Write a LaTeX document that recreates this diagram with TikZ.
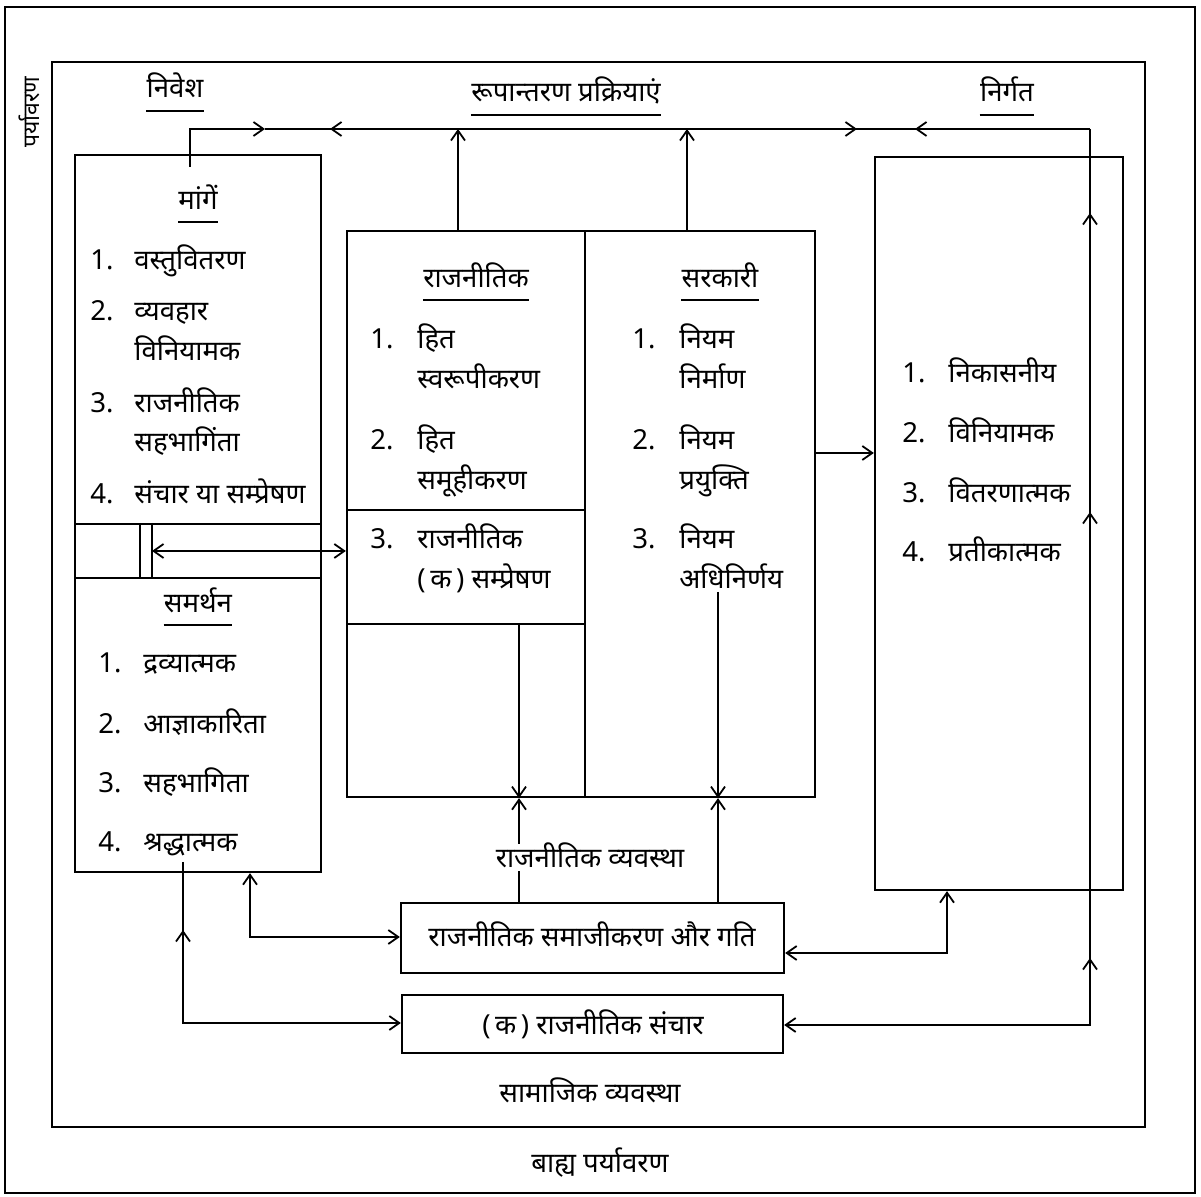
\documentclass[tikz,border=0pt]{standalone}
\usepackage{fontspec}
\newfontfamily\dev[Script=Devanagari]{Noto Sans}
\usetikzlibrary{arrows.meta,fit}
\begin{document}
\begin{tikzpicture}[x=0.5pt,y=-0.5pt,
  box/.style={draw,line width=1.15pt,inner sep=0pt},
  ln/.style={line width=1.1pt},
  >={Straight Barb[length=5pt,width=7pt,line width=0.9pt]},
  tx/.style={font=\dev\fontsize{13.8}{16}\selectfont,inner sep=0pt,text height=9.5pt,text depth=0pt,anchor=west},
  tc/.style={tx,anchor=center},
  ul/.style={line width=1.1pt}]
\useasboundingbox (0,0) rectangle (1201,1197);
% frames and boxes
\node[box,fit={(5,7) (1195,1193)}] (env) {};
\node[box,fit={(52,62) (1145,1127)}] (soc) {};
\node[box,fit={(75,155) (321,524)}] (Ld) {};
\node[box,fit={(75,524) (321,578)}] (Lm) {};
\node[box,fit={(75,578) (321,872)}] (Ls) {};
\node[box,fit={(347,231) (585,510)}] (Ma) {};
\node[box,fit={(347,510) (585,624)}] (Mb) {};
\node[box,fit={(347,624) (585,797)}] (Mc) {};
\node[box,fit={(585,231) (815,797)}] (G) {};
\node[box,fit={(875,157) (1123,890)}] (R) {};
\node[box,fit={(401,903) (784,973)}] (S) {};
\node[box,fit={(402,995) (783,1053)}] (C) {};
% coordinates
\coordinate (inS) at (190,167);
\coordinate (tl) at (190,129);
\coordinate (tA) at (458,129);
\coordinate (tG) at (687,129);
\coordinate (tr) at (1090,129);
\coordinate (br) at (1090,1025);
\coordinate (m1) at (265,129);
\coordinate (m2) at (330,129);
\coordinate (m3) at (857,129);
\coordinate (m4) at (915,129);
\coordinate (u1) at (1090,958);
\coordinate (u2) at (1090,512);
\coordinate (u3) at (1090,213);
\coordinate (h1) at (0,453);
\coordinate (v1) at (140,0);
\coordinate (v2) at (152,0);
\coordinate (p1) at (519,0);
\coordinate (p2) at (718,592);
\coordinate (q1) at (250,937);
\coordinate (q2) at (183,862);
\coordinate (q3) at (183,1023);
\coordinate (q4) at (183,930);
\coordinate (q5) at (947,953);
% top loop
\draw[ln,->] (inS) -- (tl) -- (m1);
\draw[ln] (m1) -- (tr);
\draw[ln,->] (Ma.north -| tA) -- (tA);
\draw[ln,->] (tA) -- (m2);
\draw[ln,->] (G.north -| tG) -- (tG);
\draw[ln,->] (tG) -- (m3);
\draw[ln,->] (tr) -- (m4);
\draw[ln,->] (tr) -- (br) -- (C.east |- br);
\draw[ln,->] (br) -- (u1);
\draw[ln,->] (u1) -- (u2);
\draw[ln,->] (u2) -- (u3);
% middle connectors
\draw[ln,->] (G.east |- h1) -- (R.west |- h1);
\draw[ln] (Lm.north -| v1) -- (Lm.south -| v1);
\draw[ln] (Lm.north -| v2) -- (Lm.south -| v2);
\draw[ln,<->] (Lm.center -| v2) -- (Mb.west |- Lm.center);
\draw[ln,->] (Mc.north -| p1) -- (Mc.south -| p1);
\draw[ln,->] (S.north -| p1) -- (Mc.south -| p1);
\draw[ln,->] (p2) -- (G.south -| p2);
\draw[ln,->] (S.north -| p2) -- (G.south -| p2);
% bottom connectors
\draw[ln,<->] (Ls.south -| q1) |- (S.west |- q1);
\draw[ln,->] (q2) -- (q3) -- (C.west |- q3);
\draw[ln,->] (q3) -- (q4);
\draw[ln,<->] (R.south -| q5) |- (S.east |- q5);
% headings
\node[tc,rotate=90,font=\dev\fontsize{11.5}{13}\selectfont] (penv) at (30,112) {पर्यावरण};
\node[tc] (hin) at (175,88) {निवेश};
\node[tc] (htr) at (566,92) {रूपान्तरण प्रक्रियाएं};
\node[tc] (hout) at (1007,92) {निर्गत};
\draw[ul] ([yshift=-6.5pt]hin.south west) -- ([yshift=-6.5pt]hin.south east);
\draw[ul] ([yshift=-6.5pt]htr.south west) -- ([yshift=-6.5pt]htr.south east);
\draw[ul] ([yshift=-6.5pt]hout.south west) -- ([yshift=-6.5pt]hout.south east);
% left box: demands
\node[tc] (hd) at (198,200) {मांगें};
\draw[ul] ([yshift=-6pt]hd.south west) -- ([yshift=-6pt]hd.south east);
\node[tx] (d1n) at (90,260) {1.};
\node[tx] (d1) at (134,260) {वस्तुवितरण};
\node[tx] (d2n) at (90,311) {2.};
\node[tx] (d2) at (134,311) {व्यवहार};
\node[tx] (d2b) at (134,351) {विनियामक};
\node[tx] (d3n) at (90,403) {3.};
\node[tx] (d3) at (134,403) {राजनीतिक};
\node[tx] (d3b) at (134,442) {सहभागिंता};
\node[tx] (d4n) at (90,494) {4.};
\node[tx] (d4) at (134,494) {संचार या सम्प्रेषण};
% left box: support
\node[tc] (hs) at (198,603) {समर्थन};
\draw[ul] ([yshift=-6pt]hs.south west) -- ([yshift=-6pt]hs.south east);
\node[tx] (s1n) at (98,663) {1.};
\node[tx] (s1) at (143,663) {द्रव्यात्मक};
\node[tx] (s2n) at (98,724) {2.};
\node[tx] (s2) at (143,724) {आज्ञाकारिता};
\node[tx] (s3n) at (98,783) {3.};
\node[tx] (s3) at (143,783) {सहभागिता};
\node[tx] (s4n) at (98,842) {4.};
\node[tx] (s4) at (143,842) {श्रद्धात्मक};
% middle left: political
\node[tc] (hp) at (476,278) {राजनीतिक};
\draw[ul] ([yshift=-6pt]hp.south west) -- ([yshift=-6pt]hp.south east);
\node[tx] (a1n) at (370,339) {1.};
\node[tx] (a1) at (417,339) {हित};
\node[tx] (a1b) at (417,379) {स्वरूपीकरण};
\node[tx] (a2n) at (370,440) {2.};
\node[tx] (a2) at (417,440) {हित};
\node[tx] (a2b) at (417,480) {समूहीकरण};
\node[tx] (a3n) at (370,539) {3.};
\node[tx] (a3) at (417,539) {राजनीतिक};
\node[tx] (a3b) at (417,579) {(\,क\,) सम्प्रेषण};
% middle right: governmental
\node[tc] (hg) at (720,278) {सरकारी};
\draw[ul] ([yshift=-6pt]hg.south west) -- ([yshift=-6pt]hg.south east);
\node[tx] (g1n) at (632,339) {1.};
\node[tx] (g1) at (679,339) {नियम};
\node[tx] (g1b) at (679,379) {निर्माण};
\node[tx] (g2n) at (632,440) {2.};
\node[tx] (g2) at (679,440) {नियम};
\node[tx] (g2b) at (679,480) {प्रयुक्ति};
\node[tx] (g3n) at (632,539) {3.};
\node[tx] (g3) at (679,539) {नियम};
\node[tx] (g3b) at (679,579) {अधिनिर्णय};
% right box: outputs
\node[tx] (o1n) at (902,373) {1.};
\node[tx] (o1) at (948,373) {निकासनीय};
\node[tx] (o2n) at (902,433) {2.};
\node[tx] (o2) at (948,433) {विनियामक};
\node[tx] (o3n) at (902,493) {3.};
\node[tx] (o3) at (948,493) {वितरणात्मक};
\node[tx] (o4n) at (902,552) {4.};
\node[tx] (o4) at (948,552) {प्रतीकात्मक};
% bottom texts
\node[tc,fill=white,inner xsep=2pt,inner ysep=2pt] (pv) at (590,858) {राजनीतिक व्यवस्था};
\node[tc] (st) at (592,937) {राजनीतिक समाजीकरण और गति};
\node[tc] (ct) at (593,1025) {(\,क\,) राजनीतिक संचार};
\node[tc] (sv) at (590,1093) {सामाजिक व्यवस्था};
\node[tc] (bp) at (600,1163) {बाह्य पर्यावरण};
\end{tikzpicture}
\end{document}
